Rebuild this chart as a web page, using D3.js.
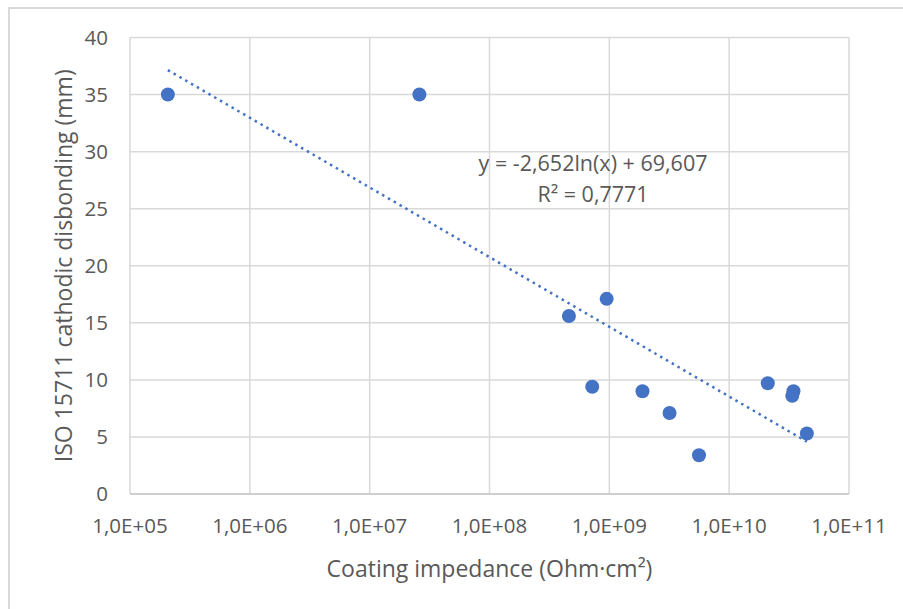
<!DOCTYPE html>
<html>
<head>
<meta charset="utf-8">
<script src="https://d3js.org/d3.v7.min.js"></script>
<style>
    body { margin: 0; background: #fff; }
    text { font-family: "Open Sans", "Liberation Sans", sans-serif; fill: #595959; }
</style>
</head>
<body>
<div id="chart"></div>
<script>
    // coating impedance (Ohm·cm²) and disbonding (mm)
    const impedance = [2.07e5, 2.6e7, 4.6e8, 9.5e8, 7.2e8, 1.89e9, 3.18e9, 5.6e9, 2.1e10, 3.44e10, 3.36e10, 4.45e10];
    const disbonding = [35, 35, 15.6, 17.1, 9.4, 9.0, 7.1, 3.4, 9.7, 9.0, 8.6, 5.3];
    const xTicks = [1e5, 1e6, 1e7, 1e8, 1e9, 1e10, 1e11];
    const yTicks = [0, 5, 10, 15, 20, 25, 30, 35, 40];
    // logarithmic trendline shown on the chart
    const trendA = -2.652, trendB = 69.607;
    const trendLabel = ['y = -2,652ln(x) + 69,607', 'R² = 0,7771'];

    const width = 903, height = 609;
    const margin = {left: 130, right: 54, top: 37.5, bottom: 115};
    const blue = '#4472c4';
    const grid = '#d9d9d9';

    const svg = d3.select('#chart').append('svg').attr('width', width).attr('height', height);

    // chart frame
    svg.append('rect').attr('x', 9).attr('y', 8).attr('width', 1000).attr('height', 1000)
        .attr('fill', 'none').attr('stroke', grid).attr('stroke-width', 2);

    const x = d3.scaleLog().domain([1e5, 1e11]).range([margin.left, width - margin.right]);
    const y = d3.scaleLinear().domain([0, 40]).range([height - margin.bottom, margin.top]);

    // gridlines
    svg.append('g').selectAll('line').data(yTicks.slice(1)).join('line')
        .attr('x1', x(1e5)).attr('x2', x(1e11))
        .attr('y1', d => y(d)).attr('y2', d => y(d))
        .attr('stroke', grid).attr('stroke-width', 1.5);
    svg.append('g').selectAll('line').data(xTicks).join('line')
        .attr('x1', d => x(d)).attr('x2', d => x(d))
        .attr('y1', y(0)).attr('y2', y(40))
        .attr('stroke', grid).attr('stroke-width', 1.5);
    // bottom axis line
    svg.append('line').attr('x1', x(1e5)).attr('x2', x(1e11)).attr('y1', y(0)).attr('y2', y(0))
        .attr('stroke', '#bfbfbf').attr('stroke-width', 1.5);

    // tick labels
    const fmt = d => d.toExponential(1).replace('.', ',').replace(/e([+-])(\d)$/, 'E$10$2').replace('e', 'E');
    svg.append('g').selectAll('text').data(xTicks).join('text')
        .attr('x', d => x(d)).attr('y', 533)
        .attr('text-anchor', 'middle').attr('font-size', 20.5)
        .text(fmt);
    svg.append('g').selectAll('text').data(yTicks).join('text')
        .attr('x', 108).attr('y', d => y(d)).attr('dy', '0.36em')
        .attr('text-anchor', 'end').attr('font-size', 20.5)
        .text(d => d);

    // axis titles
    svg.append('text').attr('x', (x(1e5) + x(1e11)) / 2).attr('y', 577)
        .attr('text-anchor', 'middle').attr('font-size', 23)
        .text('Coating impedance (Ohm·cm²)');
    svg.append('text')
        .attr('transform', `translate(72,${(y(0) + y(40)) / 2}) rotate(-90)`)
        .attr('text-anchor', 'middle').attr('font-size', 23)
        .text('ISO 15711 cathodic disbonding (mm)');

    // trendline
    const xMin = d3.min(impedance), xMax = d3.max(impedance);
    const trend = d3.range(0, 101).map(i => {
        const v = Math.exp(Math.log(xMin) + (Math.log(xMax) - Math.log(xMin)) * i / 100);
        return [v, trendA * Math.log(v) + trendB];
    });
    svg.append('path').datum(trend)
        .attr('d', d3.line().x(d => x(d[0])).y(d => y(d[1])))
        .attr('fill', 'none').attr('stroke', blue).attr('stroke-width', 2.5)
        .attr('stroke-dasharray', '2.5,4.2');

    // points
    svg.append('g').selectAll('circle').data(impedance).join('circle')
        .attr('cx', d => x(d)).attr('cy', (d, i) => y(disbonding[i]))
        .attr('r', 7).attr('fill', blue);

    // equation label
    svg.append('g').selectAll('text').data(trendLabel).join('text')
        .attr('x', 593).attr('y', (d, i) => 171 + i * 31)
        .attr('text-anchor', 'middle').attr('font-size', 21.5)
        .text(d => d);
</script>
</body>
</html>
